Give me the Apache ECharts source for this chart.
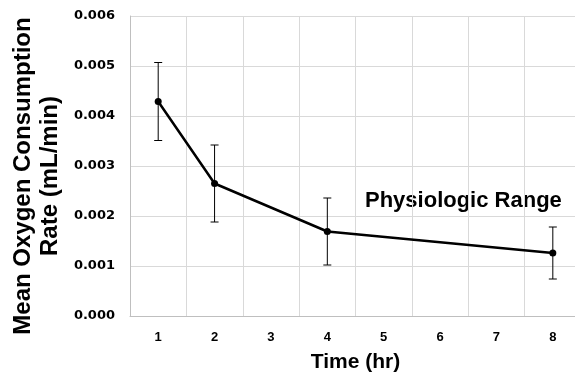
<!DOCTYPE html>
<html><head><meta charset="utf-8">
<script src="https://cdn.jsdelivr.net/npm/echarts@6/dist/echarts.min.js"></script>
<style>html,body{margin:0;padding:0;background:#fff}#c{width:575px;height:373px}</style>
</head><body><div id="c"></div>
<script>
var categories = ['1','2','3','4','5','6','7','8'];
var timePoints = ['1','2','4','8'];
var meanRate = [0.00429, 0.00265, 0.00169, 0.00126];
var errorAmt = [0.00078, 0.00077, 0.00067, 0.00052];
var yTicks = [0, 0.001, 0.002, 0.003, 0.004, 0.005, 0.006];
var yTitle = 'Mean Oxygen Consumption\nRate (mL/min)';
var annotation = 'Physiologic Range';

var lineData = timePoints.map(function(t,i){return [t, meanRate[i]];});
var errData = timePoints.map(function(t,i){return [t, meanRate[i]-errorAmt[i], meanRate[i]+errorAmt[i]];});
var font = "'Liberation Sans', Arial, sans-serif";
var chart = echarts.init(document.getElementById('c'));
chart.setOption({
  animation:false,
  grid:{left:130, right:-6, top:16, bottom:57, containLabel:false, outerBoundsMode:'none'},
  xAxis:{type:'category', data:categories, boundaryGap:true,
    name:'Time (hr)', nameLocation:'middle', nameGap:36,
    nameTextStyle:{fontFamily:font, fontWeight:'bold', fontSize:21, color:'#000'},
    axisLine:{lineStyle:{color:'#bfbfbf', width:1}}, axisTick:{show:false},
    axisLabel:{fontFamily:font, fontWeight:'bold', fontSize:13, color:'#000', margin:15},
    splitLine:{show:true, lineStyle:{color:'#d9d9d9', width:1}}},
  yAxis:{type:'value', min:yTicks[0], max:yTicks[yTicks.length-1], interval:0.001,
    axisLine:{show:true, lineStyle:{color:'#bfbfbf', width:1}}, axisTick:{show:false},
    axisLabel:{fontFamily:"'DejaVu Sans', sans-serif", fontWeight:'bold', fontSize:13, color:'#000', margin:15,
      formatter:function(v){return v.toFixed(3);}},
    splitLine:{show:true, lineStyle:{color:'#d9d9d9', width:1}}},
  graphic:[
    {type:'text', x:37, y:176, rotation:Math.PI/2,
     style:{text:yTitle, fontFamily:font, fontWeight:'bold', fontSize:24, lineHeight:27, fill:'#000', textAlign:'center', textVerticalAlign:'middle'}},
    {type:'text', left:365, top:190, style:{text:annotation, fontFamily:font, fontWeight:'bold', fontSize:22, fill:'#000'}}
  ],
  series:[
    {type:'custom', data:errData, z:3,
     renderItem:function(params, api){
       var lo = api.coord([api.value(0), api.value(1)]);
       var hi = api.coord([api.value(0), api.value(2)]);
       var w = 4;
       var st = {stroke:'#000', lineWidth:1};
       return {type:'group', children:[
         {type:'line', shape:{x1:hi[0],y1:hi[1],x2:lo[0],y2:lo[1]}, style:st},
         {type:'line', shape:{x1:hi[0]-w,y1:hi[1],x2:hi[0]+w,y2:hi[1]}, style:st},
         {type:'line', shape:{x1:lo[0]-w,y1:lo[1],x2:lo[0]+w,y2:lo[1]}, style:st}
       ]};
     }},
    {type:'line', data:lineData, z:4, symbol:'circle', symbolSize:7,
     lineStyle:{color:'#000', width:2.5}, itemStyle:{color:'#000'}}
  ]
});
</script></body></html>
